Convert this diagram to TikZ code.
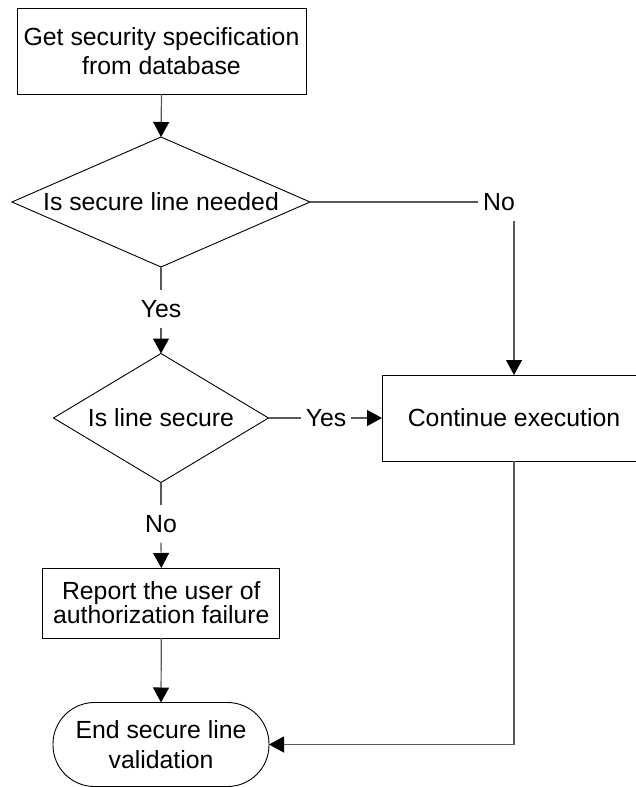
\documentclass[tikz,border=0pt]{standalone}
\usepackage{fontspec}
\setmainfont{Liberation Sans}
\usetikzlibrary{arrows.meta,shapes.geometric}
\tikzset{
  shapeline/.style={draw=black, line width=0.9pt, inner sep=0pt, outer sep=0pt,
    align=center, font=\fontsize{24.8pt}{29pt}\selectfont},
  box/.style={shapeline, rectangle},
  dia/.style={shapeline, diamond},
  term/.style={shapeline, rectangle, rounded corners=41.5pt},
  lbl/.style={inner xsep=5pt, inner ysep=10pt, outer sep=0pt,
    font=\fontsize{24.8pt}{29pt}\selectfont},
  conn/.style={draw=black!65, line width=1.2pt},
  arr/.style={conn, -{Triangle[width=16pt,length=15pt,color=black]}}
}
\begin{document}
\begin{tikzpicture}[x=1pt,y=-1pt]
\clip (0,0) rectangle (636,787);
\fill[white] (0,0) rectangle (636,787);
\node[box, minimum width=289pt, minimum height=86pt] (get) at (161.5,51) {Get security specification\\from database};
\node[dia, aspect=2.29, minimum width=298pt, minimum height=130pt] (need) at (161,202) {Is secure line needed};
\node[lbl] (no1) at (499,202) {No};
\node[box, minimum width=264pt, minimum height=86pt] (cont) at (514,418) {Continue execution};
\node[lbl] (yes1) at (161,309) {Yes};
\node[dia, aspect=1.67, minimum width=215pt, minimum height=129pt] (sec) at (161,418) {Is line secure};
\node[lbl] (yes2) at (326,418) {Yes};
\node[lbl] (no2) at (161,524) {No};
\node[box, minimum width=237pt, minimum height=70pt, font=\fontsize{24.8pt}{24pt}\selectfont] (rep) at (161.3,603) {Report the user of\\authorization failure};
\node[term, minimum width=216pt, minimum height=84pt, font=\fontsize{24.8pt}{30pt}\selectfont] (end) at (161,744.5) {End secure line\\validation};

\draw[arr] (get.south) -- (need.north);
\draw[conn] (need.east) -- (no1.west);
\draw[arr] (no1.south -| cont.north) -- (cont.north);
\draw[conn] (need.south) -- (yes1.north);
\draw[arr] (yes1.south) -- (sec.north);
\draw[conn] (sec.east) -- (yes2.west);
\draw[arr] (yes2.east) -- (cont.west);
\draw[conn] (sec.south) -- (no2.north);
\draw[arr] (no2.south) -- (rep.north);
\draw[arr] (rep.south) -- (end.north);
\draw[arr] (cont.south) |- (end.east);
\end{tikzpicture}
\end{document}
